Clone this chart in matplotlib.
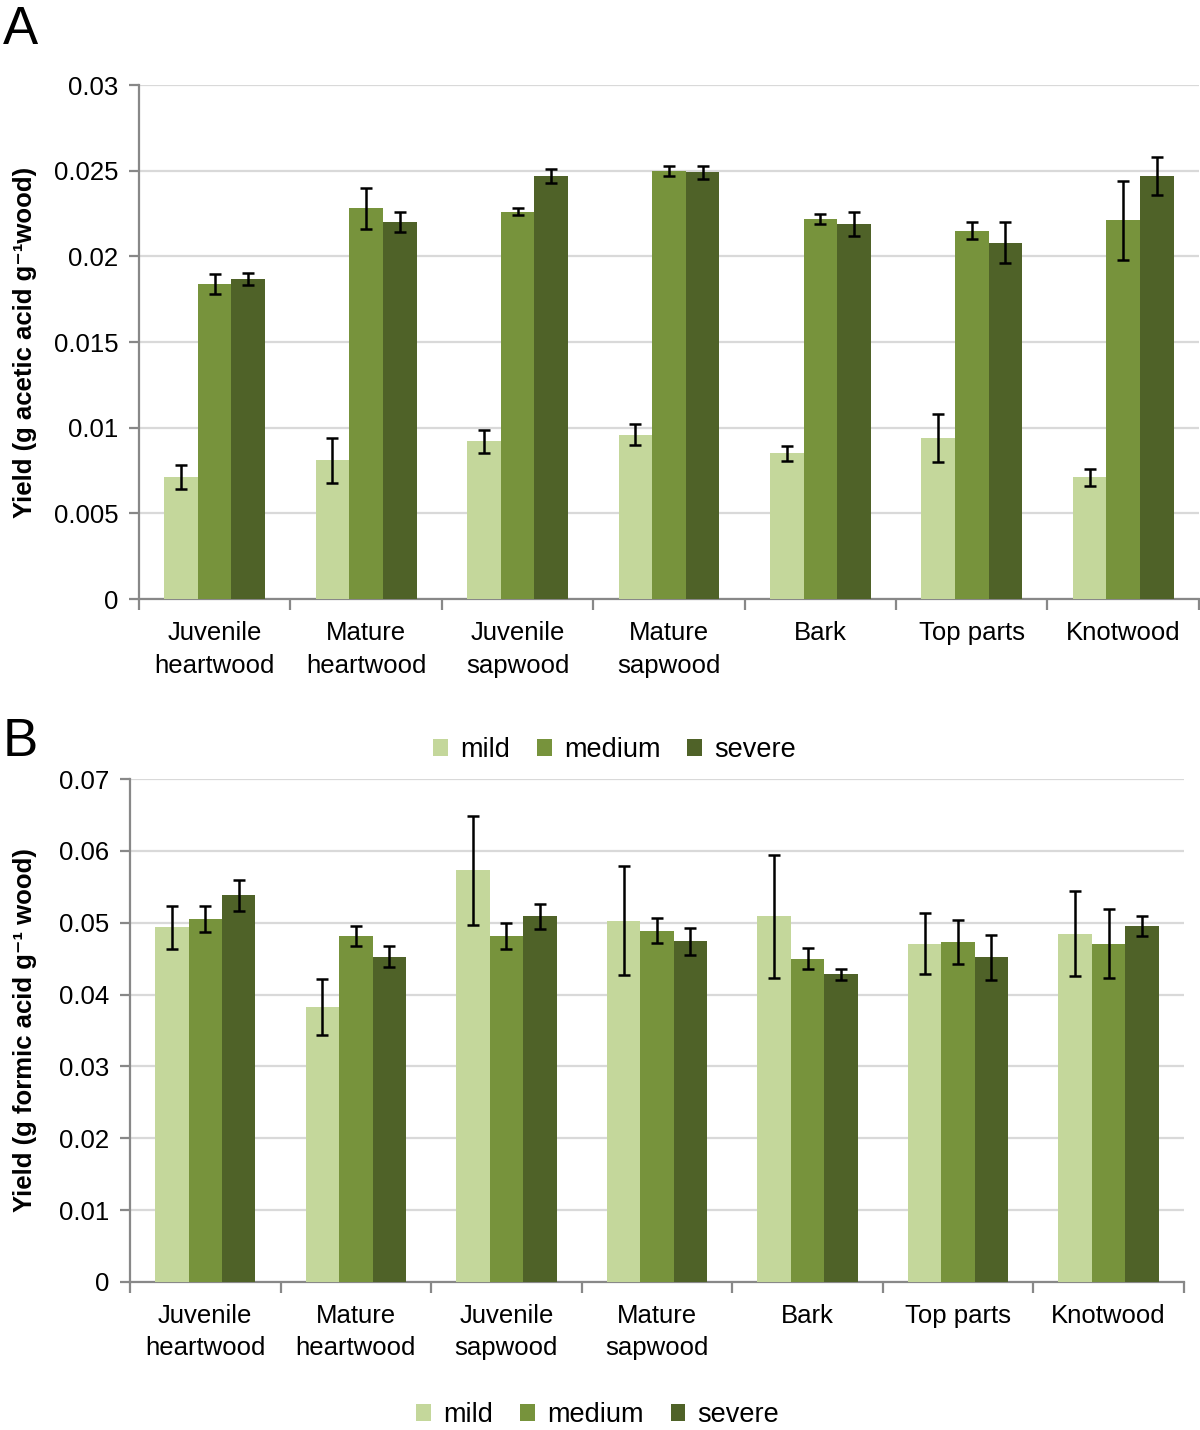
import numpy as np
import matplotlib
matplotlib.use('Agg')
import matplotlib.pyplot as plt
from matplotlib.patches import Patch

plt.rcParams['font.family'] = ['Liberation Sans', 'DejaVu Sans']

categories = ['Juvenile\nheartwood', 'Mature\nheartwood', 'Juvenile\nsapwood',
              'Mature\nsapwood', 'Bark', 'Top parts', 'Knotwood']
levels = ['mild', 'medium', 'severe']
colors = ['#C4D79B', '#77933C', '#4F6228']

# panel A - acetic acid
acetic_mild = [0.0071, 0.0081, 0.0092, 0.0096, 0.0085, 0.0094, 0.0071]
acetic_medium = [0.0184, 0.0228, 0.0226, 0.0250, 0.0222, 0.0215, 0.0221]
acetic_severe = [0.0187, 0.0220, 0.0247, 0.0249, 0.0219, 0.0208, 0.0247]
acetic_mild_err = [0.0007, 0.0013, 0.00065, 0.0006, 0.00045, 0.0014, 0.0005]
acetic_medium_err = [0.0006, 0.0012, 0.0002, 0.0003, 0.0003, 0.0005, 0.0023]
acetic_severe_err = [0.00035, 0.0006, 0.0004, 0.0004, 0.0007, 0.0012, 0.0011]

# panel B - formic acid
formic_mild = [0.0494, 0.0383, 0.0573, 0.0503, 0.0509, 0.0471, 0.0485]
formic_medium = [0.0505, 0.0481, 0.0482, 0.0489, 0.0450, 0.0473, 0.0471]
formic_severe = [0.0538, 0.0453, 0.0509, 0.0474, 0.0428, 0.0452, 0.0496]
formic_mild_err = [0.0030, 0.0039, 0.0076, 0.0076, 0.0086, 0.0043, 0.0059]
formic_medium_err = [0.0018, 0.0014, 0.0018, 0.0017, 0.0015, 0.0031, 0.0048]
formic_severe_err = [0.0021, 0.0015, 0.0017, 0.0019, 0.0007, 0.0031, 0.0014]

fig = plt.figure(figsize=(12, 14.3), dpi=100)
axA = fig.add_axes([0.1158, 0.5811, 0.8833, 0.3594])
axB = fig.add_axes([0.1083, 0.1035, 0.8783, 0.3517])

w = 0.222
x = np.arange(len(categories))


def draw(ax, vals, errs, ymax, step, ylabel, fmt):
    for k in range(3):
        ax.bar(x + (k - 1) * w, vals[k], w, color=colors[k], zorder=3,
               yerr=errs[k], error_kw=dict(ecolor='black', elinewidth=1.8,
                                           capsize=4.5, capthick=1.8, zorder=4))
    ax.set_xlim(-0.5, len(categories) - 0.5)
    ax.set_ylim(0, ymax)
    ticks = np.arange(0, ymax + step / 2, step)
    ax.set_yticks(ticks)
    ax.set_yticklabels([fmt(t) for t in ticks], fontsize=18.5)
    ax.yaxis.grid(True, color='#D9D9D9', linewidth=1.6, zorder=0)
    ax.set_axisbelow(True)
    for s in ['top', 'right']:
        ax.spines[s].set_visible(False)
    for s in ['left', 'bottom']:
        ax.spines[s].set_color('#888888')
        ax.spines[s].set_linewidth(1.6)
    ax.tick_params(axis='y', length=7, width=1.6, color='#888888', pad=8)
    # category separators on x axis
    ax.set_xticks(np.arange(-0.5, len(categories) + 0.5, 1))
    ax.set_xticklabels([])
    ax.tick_params(axis='x', length=8, width=1.6, color='#888888')
    for i, c in enumerate(categories):
        ax.text(i, -0.043, c, transform=ax.get_xaxis_transform(), ha='center',
                va='top', fontsize=18.5, linespacing=1.45)
    ax.set_ylabel(ylabel, fontsize=18.5, fontweight='bold')


def fmtA(t):
    t = round(t, 3)
    return '0' if t == 0 else ('%.3f' % t).rstrip('0')


def fmtB(t):
    t = round(t, 2)
    return '0' if t == 0 else '%.2f' % t


draw(axA, [acetic_mild, acetic_medium, acetic_severe],
     [acetic_mild_err, acetic_medium_err, acetic_severe_err],
     0.03, 0.005, 'Yield (g acetic acid g\u207b\u00b9wood)', fmtA)
draw(axB, [formic_mild, formic_medium, formic_severe],
     [formic_mild_err, formic_medium_err, formic_severe_err],
     0.07, 0.01, 'Yield (g formic acid g\u207b\u00b9 wood)', fmtB)

axA.yaxis.set_label_coords(-0.096, 0.5)
axB.yaxis.set_label_coords(-0.088, 0.5)

handles = [Patch(facecolor=c, edgecolor='none') for c in colors]
for xc, ypos in [(0.512, 1 - 750 / 1430), (0.498, 1 - 1415 / 1430)]:
    fig.legend(handles, levels, loc='center', bbox_to_anchor=(xc, ypos),
               ncol=3, frameon=False, fontsize=19.5, handlelength=0.55,
               handleheight=0.55, handletextpad=0.45, columnspacing=1.0)

fig.text(0.002, 1 - 30 / 1430, 'A', fontsize=38, va='center', ha='left')
fig.text(0.002, 1 - 742 / 1430, 'B', fontsize=38, va='center', ha='left')

fig.savefig('out.png', dpi=100)
